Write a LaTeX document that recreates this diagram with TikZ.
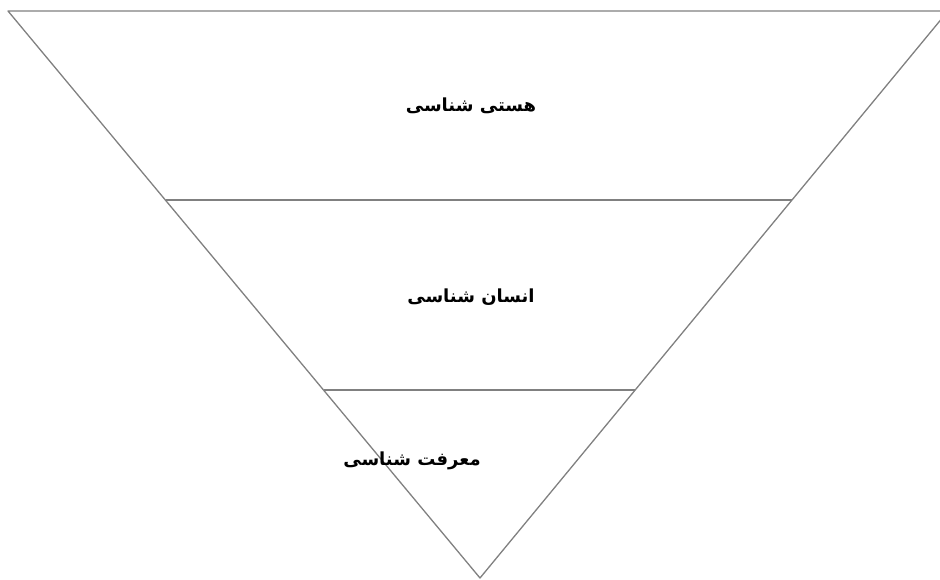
\documentclass[tikz,border=0pt]{standalone}
\usepackage{fontspec}
\TeXXeTstate=1
\newfontfamily\arabicfont[Script=Arabic]{DejaVu Sans}
\begin{document}
\begin{tikzpicture}[x=1pt,y=-1pt,
  edge/.style={draw=black!50, line width=1.3pt},
  lbl/.style={font=\arabicfont\bfseries\fontsize{18}{20}\selectfont, inner sep=0pt}]
\useasboundingbox (0,0) rectangle (940,580);
\clip (0,0) rectangle (940,580);
\coordinate (TL) at (8,11);
\coordinate (TR) at (948,11);
\coordinate (A) at (480,578);
\coordinate (L1) at (166,200);
\coordinate (R1) at (792,200);
\coordinate (L2) at (324,390);
\coordinate (R2) at (635,390);
\draw[edge, line join=round] (TL) -- (TR) -- (A) -- cycle;
\draw[edge] (L1) -- (R1);
\draw[edge] (L2) -- (R2);
\node[lbl] (t1) at (471,106) {\beginR هستی شناسی\endR};
\node[lbl] (t2) at (471,297) {\beginR انسان شناسی\endR};
\node[lbl] (t3) at (412,461) {\beginR معرفت شناسی\endR};
\end{tikzpicture}
\end{document}
